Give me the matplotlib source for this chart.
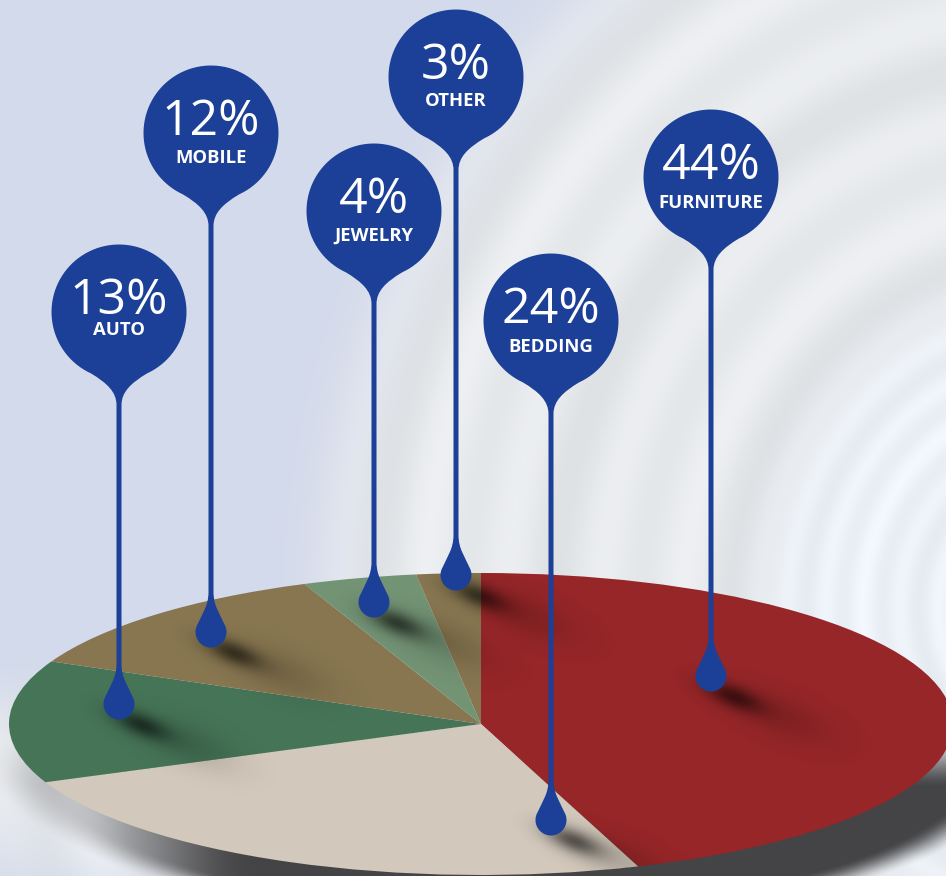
import numpy as np
import matplotlib
matplotlib.use('Agg')
import matplotlib.pyplot as plt
from matplotlib.path import Path
from matplotlib.patches import PathPatch

# --------------------------------------------------------------------------------
# data, clockwise from twelve o'clock

labels = ['FURNITURE', 'BEDDING', 'AUTO', 'MOBILE', 'JEWELRY', 'OTHER']
shares = [44, 24, 13, 12, 4, 3]
# the slices as they are drawn in the picture differ a bit from the printed numbers
drawn_shares = [44.6, 24.1, 13.1, 12.1, 3.9, 2.2]
slice_colors = ['#962628', '#d2c8bb', '#467457', '#877650', '#739375', '#877650']

# layout of the pins, in pixels of the picture
pin_x = [711, 551, 119, 211, 374, 456]
head_y = [177, 321, 312, 133, 211, 77]
drop_y = [676, 820, 704, 632, 602, 575]
pct_base = [179, 323, 314, 135, 213, 79]
name_base = [208, 352, 335, 163, 241, 106]

W, H = 946, 876
CX, CY, RX, RY = 481, 724, 472, 151
BLUE = '#1c4098'

plt.rcParams['font.family'] = ['Open Sans', 'DejaVu Sans']

# --------------------------------------------------------------------------------


def smooth(a, lo, hi):
    t = np.clip((a - lo) / (hi - lo), 0, 1)
    return t * t * (3 - 2 * t)


def background():
    yy, xx = np.mgrid[0:H, 0:W] + 0.5
    r = np.hypot(xx - 1060, (yy - 610) * 0.92)

    # ripples
    wave = 0.5 + 0.5 * np.sin(r / 14)
    wave = 0.65 * wave + 0.35 * (0.5 + 0.5 * np.sin(r / 31 + 1))
    grey = np.dstack([223 + 16 * wave, 226 + 15 * wave, 229 + 16 * wave])

    # bright rings near the right side
    inner = smooth(-r, -340, -230)
    fine = 0.5 + 0.5 * np.sin(r / 6)
    grey = grey * (1 - inner[..., None] * 0.7) + np.array([232, 239, 246]) * inner[..., None] * 0.7
    grey += (fine * inner * 9)[..., None]

    # the flat blue on the left, and the pale glow round the plate
    blue = np.array([211, 218, 235], dtype=float)
    mix = smooth(-r, -800, -665)
    e = np.hypot((xx - CX) / RX, (yy - CY) / RY)
    mix = np.maximum(mix, smooth(-e, -1.6, -1.05) * smooth(yy, 650, 760))
    img = blue * (1 - mix[..., None]) + grey * mix[..., None]

    # shadow of the plate
    e2 = np.hypot((xx - 510) / 490, (yy - 750) / 165)
    dark = smooth(-e2, -1.08, -0.96) * smooth(yy, 730, 790)
    dark *= 0.25 + 0.75 * smooth(xx, 60, 260)
    col = np.array([68, 68, 70], dtype=float)
    img = img * (1 - dark[..., None]) + col * dark[..., None]
    return np.clip(img, 0, 255).astype(np.uint8)


def drop_shadows():
    yy, xx = np.mgrid[0:H, 0:W] + 0.5
    alpha = np.zeros((H, W))
    ux, uy = np.cos(np.radians(22)), np.sin(np.radians(22))
    for x, y in zip(pin_x, drop_y):
        dx, dy = xx - x, yy - y
        u = dx * ux + dy * uy
        v = -dx * uy + dy * ux
        near = np.exp(-((u - 28) / 30) ** 2 - ((v - 11) / 11) ** 2)
        far = np.exp(-((u - 80) / 50) ** 2 - ((v - 11) / 20) ** 2)
        alpha = np.maximum(alpha, 0.55 * near + 0.14 * far)
    inside = np.hypot((xx - CX) / RX, (yy - CY) / RY) < 1
    rgba = np.zeros((H, W, 4))
    rgba[..., 3] = np.clip(alpha, 0, 1) * inside
    return rgba


def pin_path(x, head, drop):
    r, d = 67.5, 15.5
    t_head = np.radians(np.linspace(65.3, -245.3, 90))
    t_drop = np.radians(np.linspace(211, -31, 40))
    v = [(x + 2.5, head + 93),
         (x + 2.5, head + 80), (x + 12, head + 71), (x + r * np.cos(t_head[0]), head + r * np.sin(t_head[0]))]
    c = [Path.MOVETO, Path.CURVE4, Path.CURVE4, Path.CURVE4]
    for t in t_head[1:]:
        v.append((x + r * np.cos(t), head + r * np.sin(t)))
        c.append(Path.LINETO)
    v += [(x - 12, head + 71), (x - 2.5, head + 80), (x - 2.5, head + 93),
          (x - 2.5, drop - 40)]
    c += [Path.CURVE4, Path.CURVE4, Path.CURVE4, Path.LINETO]
    v += [(x - 2.5, drop - 26), (x - 9, drop - 18), (x + d * np.cos(t_drop[0]), drop + d * np.sin(t_drop[0]))]
    c += [Path.CURVE4, Path.CURVE4, Path.CURVE4]
    for t in t_drop[1:]:
        v.append((x + d * np.cos(t), drop + d * np.sin(t)))
        c.append(Path.LINETO)
    v += [(x + 9, drop - 18), (x + 2.5, drop - 26), (x + 2.5, drop - 40),
          (x + 2.5, head + 93)]
    c += [Path.CURVE4, Path.CURVE4, Path.CURVE4, Path.LINETO]
    return Path(v, c)

# --------------------------------------------------------------------------------


fig = plt.figure(figsize=(W / 100, H / 100), dpi=100)

ax_bg = fig.add_axes([0, 0, 1, 1], zorder=0)
ax_bg.imshow(background(), extent=(0, W, H, 0), aspect='auto', interpolation='bilinear')
ax_bg.axis('off')

ax_pie = fig.add_axes([(CX - RX) / W, 1 - (CY + RY) / H, 2 * RX / W, 2 * RY / H], zorder=1)
ax_pie.pie(drawn_shares, colors=slice_colors, startangle=90, counterclock=False, radius=1,
           wedgeprops={'linewidth': 0})
ax_pie.set_aspect('auto')
ax_pie.set_xlim(-1, 1)
ax_pie.set_ylim(-1, 1)
ax_pie.axis('off')

ax = fig.add_axes([0, 0, 1, 1], zorder=2)
ax.patch.set_alpha(0)
ax.imshow(drop_shadows(), extent=(0, W, H, 0), aspect='auto', interpolation='bilinear')
ax.set_xlim(0, W)
ax.set_ylim(H, 0)
ax.axis('off')

for i in range(len(labels)):
    ax.add_patch(PathPatch(pin_path(pin_x[i], head_y[i], drop_y[i]), fc=BLUE, ec='none'))
    ax.text(pin_x[i], pct_base[i], '%d%%' % shares[i], color='white', fontsize=36,
            ha='center', va='baseline')
    ax.text(pin_x[i], name_base[i], labels[i], color='white', fontsize=13.3,
            fontweight='bold', ha='center', va='baseline')

fig.savefig('out.png', dpi=100)
